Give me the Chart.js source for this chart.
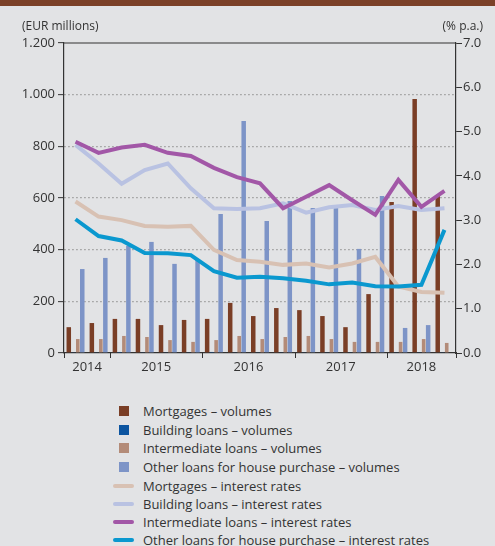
<!DOCTYPE html>
<html>
<head>
<meta charset="utf-8">
<script src="https://cdn.jsdelivr.net/npm/chart.js@4/dist/chart.umd.min.js"></script>
<style>
    body { margin: 0; background: #e2e3e5; font-family: "Open Sans", sans-serif; }
    #wrap { position: relative; width: 495px; height: 546px; overflow: hidden; }
    #loanChart { position: absolute; left: 0; top: 0; }
    #legend { position: absolute; left: 0; top: 0; width: 495px; }
    .row { position: absolute; left: 0; height: 18px; width: 495px; }
    .row span { position: absolute; left: 143px; top: 0; line-height: 18px; font-size: 13px; color: #333; white-space: nowrap; }
    .box { position: absolute; left: 119px; top: 4px; width: 10px; height: 10px; }
    .line { position: absolute; left: 113px; top: 7px; width: 21px; height: 4px; border-radius: 2px; }
</style>
</head>
<body>
<div id="wrap">
    <canvas id="loanChart" width="495" height="390"></canvas>
    <div id="legend"></div>
</div>
<script>
// Quarters 2014 Q3 .. 2018 Q3
const quarters = ['2014 Q3', '2014 Q4',
    '2015 Q1', '2015 Q2', '2015 Q3', '2015 Q4',
    '2016 Q1', '2016 Q2', '2016 Q3', '2016 Q4',
    '2017 Q1', '2017 Q2', '2017 Q3', '2017 Q4',
    '2018 Q1', '2018 Q2', '2018 Q3'];
const years = ['2014', '2015', '2016', '2017', '2018'];

// Volumes (EUR millions)
const mortgageVol = [100, 116, 132, 132, 108, 128, 132, 194, 143, 174, 166, 143, 100, 228, 585, 983, 608];
const buildingVol = [3, 3, 4, 3, 3, 3, 4, 3, 3, 3, 3, 3, 3, 3, 3, 3, 3];
const intermediateVol = [54, 54, 66, 62, 50, 43, 50, 66, 54, 62, 66, 54, 43, 43, 43, 54, 39];
const otherVol = [325, 368, 415, 430, 345, 360, 538, 898, 511, 588, 561, 561, 403, 608, 97, 108, null];

// Interest rates (% p.a.)
const mortgageRate = [3.42, 3.08, 3.00, 2.87, 2.85, 2.87, 2.33, 2.10, 2.06, 1.99, 2.02, 1.93, 2.02, 2.17, 1.50, 1.38, 1.36];
const buildingRate = [4.70, 4.28, 3.82, 4.13, 4.28, 3.72, 3.27, 3.25, 3.27, 3.38, 3.17, 3.29, 3.34, 3.23, 3.32, 3.23, 3.27];
const intermediateRate = [4.77, 4.52, 4.64, 4.70, 4.52, 4.45, 4.18, 3.97, 3.83, 3.27, 3.53, 3.79, 3.45, 3.12, 3.91, 3.30, 3.66];
const otherRate = [3.02, 2.64, 2.54, 2.26, 2.25, 2.21, 1.85, 1.70, 1.72, 1.69, 1.63, 1.55, 1.59, 1.51, 1.50, 1.54, 2.78];

const ink = '#333333';

function barSet(label, data, color, pct) {
    return { type: 'bar', label: label, data: data, backgroundColor: color, yAxisID: 'yVol',
        order: 5, barPercentage: pct, categoryPercentage: 0.78 };
}
function lineSet(label, data, color, order) {
    return { type: 'line', label: label, data: data, borderColor: color, backgroundColor: color,
        borderWidth: 4, pointRadius: 0, tension: 0, yAxisID: 'yRate', order: order };
}

const datasets = [
    barSet('Mortgages – volumes', mortgageVol, '#7a3e26', 1),
    barSet('Building loans – volumes', buildingVol, '#0d55a0', 1),
    barSet('Intermediate loans – volumes', intermediateVol, '#b38b78', 0.8),
    barSet('Other loans for house purchase – volumes', otherVol, '#7d94c7', 1),
    lineSet('Mortgages – interest rates', mortgageRate, '#d8c1b3', 3),
    lineSet('Building loans – interest rates', buildingRate, '#b9c2e2', 2),
    lineSet('Intermediate loans – interest rates', intermediateRate, '#a257a7', 1),
    lineSet('Other loans for house purchase – interest rates', otherRate, '#0a98cf', 0)
];

// Header band, unit captions, top frame line and year axis
const decorations = {
    id: 'decorations',
    beforeDraw(chart) {
        const ctx = chart.ctx;
        ctx.save();
        ctx.fillStyle = '#7b4128';
        ctx.fillRect(0, 0, chart.width, 6);
        ctx.fillStyle = ink;
        ctx.font = '12px "Open Sans", sans-serif';
        ctx.textBaseline = 'middle';
        ctx.textAlign = 'left';
        ctx.fillText('(EUR millions)', 22, 27);
        ctx.textAlign = 'right';
        ctx.fillText('(% p.a.)', 483, 27);
        ctx.restore();
    },
    afterDraw(chart) {
        const ctx = chart.ctx;
        const area = chart.chartArea;
        const xs = chart.scales.x;
        const step = (area.right - area.left) / quarters.length;
        ctx.save();
        ctx.strokeStyle = ink;
        ctx.lineWidth = 1.2;
        ctx.beginPath();
        ctx.moveTo(area.left, area.top);
        ctx.lineTo(area.right, area.top);
        ctx.stroke();

        ctx.fillStyle = ink;
        ctx.font = '13px "Open Sans", sans-serif';
        ctx.textAlign = 'center';
        ctx.textBaseline = 'middle';
        let start = 0;
        const bounds = [0];
        years.forEach(y => {
            const idx = [];
            quarters.forEach((q, i) => { if (q.startsWith(y)) idx.push(i); });
            const first = idx[0], last = idx[idx.length - 1];
            const cx = (xs.getPixelForValue(first) + xs.getPixelForValue(last)) / 2;
            ctx.fillText(y, cx, area.bottom + 14);
            bounds.push(last + 1);
        });
        ctx.lineWidth = 1;
        bounds.forEach(b => {
            const bx = Math.round(area.left + b * step) + 0.5;
            ctx.beginPath();
            ctx.moveTo(bx, area.bottom);
            ctx.lineTo(bx, area.bottom + 5);
            ctx.stroke();
        });
        ctx.restore();
    }
};

const chart = new Chart(document.getElementById('loanChart'), {
    data: { labels: quarters, datasets: datasets },
    options: {
        responsive: false,
        animation: false,
        layout: { padding: { top: 43, left: 0, right: 0, bottom: 0 } },
        plugins: { legend: { display: false }, tooltip: { enabled: false } },
        scales: {
            x: {
                offset: true,
                ticks: { display: false },
                grid: { display: false },
                border: { color: ink, width: 1.2 },
                afterFit: s => { s.height = 37; }
            },
            yVol: {
                position: 'left',
                min: 0, max: 1200,
                ticks: {
                    stepSize: 200, color: ink, padding: 3,
                    font: { family: '"Open Sans", sans-serif', size: 13 },
                    callback: v => v.toLocaleString('de-DE')
                },
                grid: {
                    color: c => (c.tick.value === 0 || c.tick.value === 1200) ? 'rgba(0,0,0,0)' : '#9a9a9a',
                    lineWidth: 1.3,
                    tickColor: ink, tickWidth: 1, tickLength: 6
                },
                border: { color: ink, width: 1.2, dash: [1.5, 2.5] },
                afterFit: s => { s.width = 64; }
            },
            yRate: {
                position: 'right',
                min: 0, max: 7,
                ticks: {
                    stepSize: 1, color: ink, padding: 1,
                    font: { family: '"Open Sans", sans-serif', size: 13 },
                    callback: v => v.toFixed(1)
                },
                grid: { drawOnChartArea: false, color: ink, tickColor: ink, tickWidth: 1, tickLength: 6 },
                border: { color: ink, width: 1.2 },
                afterFit: s => { s.width = 39; }
            }
        }
    },
    plugins: [decorations]
});

// Legend list below the plot, one entry per row
const legendEl = document.getElementById('legend');
const rowCenters = [411, 430, 448, 467, 486, 504, 522, 540];
datasets.forEach((ds, i) => {
    const row = document.createElement('div');
    row.className = 'row';
    row.style.top = (rowCenters[i] - 9) + 'px';
    const mark = document.createElement('div');
    mark.className = ds.type === 'bar' ? 'box' : 'line';
    mark.style.background = ds.type === 'bar' ? ds.backgroundColor : ds.borderColor;
    const txt = document.createElement('span');
    txt.textContent = ds.label;
    row.appendChild(mark);
    row.appendChild(txt);
    legendEl.appendChild(row);
});
</script>
</body>
</html>
